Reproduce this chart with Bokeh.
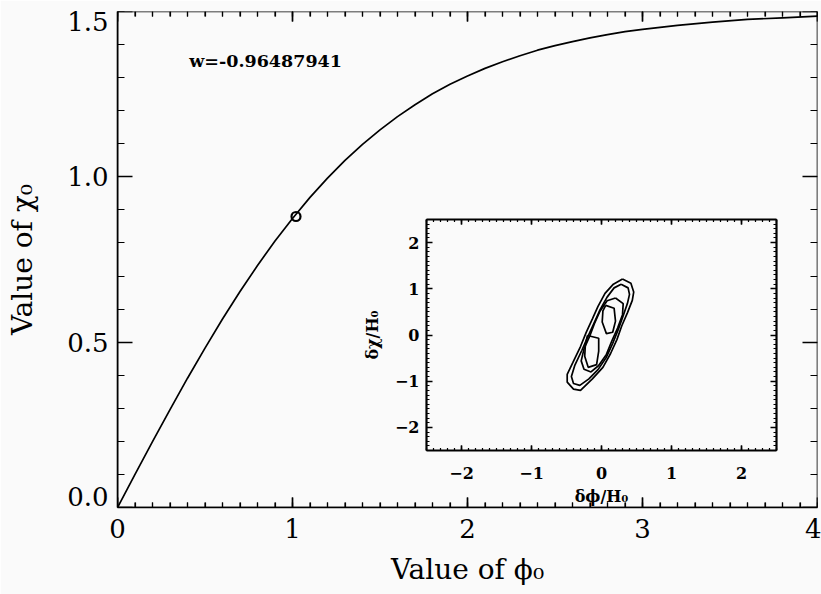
import numpy as np
from bokeh.plotting import figure
from bokeh.models import LinearAxis, Range1d, FixedTicker, Label
from bokeh.embed import file_html
from bokeh.resources import INLINE

# ---------------- data ----------------
phi0 = [0.0, 0.1, 0.2, 0.3, 0.4, 0.5, 0.6, 0.7, 0.8, 0.9, 1.0, 1.1, 1.2, 1.3, 1.4,
        1.5, 1.6, 1.7, 1.8, 1.9, 2.0, 2.1, 2.2, 2.3, 2.4, 2.5, 2.6, 2.7, 2.8, 2.9,
        3.0, 3.2, 3.4, 3.6, 3.8, 4.0]
chi0 = [0.000, 0.100, 0.199, 0.296, 0.391, 0.482, 0.570, 0.653, 0.732, 0.806,
        0.874, 0.938, 0.996, 1.050, 1.098, 1.142, 1.182, 1.218, 1.251, 1.280,
        1.305, 1.328, 1.348, 1.366, 1.383, 1.397, 1.409, 1.420, 1.430, 1.439,
        1.446, 1.458, 1.468, 1.476, 1.481, 1.486]
point_phi = [1.02]
point_chi = [0.88]
w_value = -0.96487941

main_x_ticks = [0, 1, 2, 3, 4]
main_y_ticks = [0.0, 0.5, 1.0, 1.5]
main_y_tick_labels = ["0.0", "0.5", "1.0", "1.5"]
inset_ticks = [-2, -1, 0, 1, 2]
inset_tick_labels = ["\u22122", "\u22121", "0", "1", "2"]

# contour levels of the inset (dphi/H0, dchi/H0)
c1_x = [0.30, 0.42, 0.46, 0.44, 0.37, 0.29, 0.22, 0.13, 0.02, -0.13, -0.30, -0.40, -0.49, -0.49, -0.41, -0.30, -0.22, -0.13, -0.05, 0.05, 0.17]
c1_y = [1.21, 1.12, 0.93, 0.75, 0.48, 0.20, -0.10, -0.40, -0.70, -0.95, -1.20, -1.17, -1.02, -0.85, -0.60, -0.25, 0.05, 0.35, 0.62, 0.90, 1.10]
c2_x = [0.28, 0.38, 0.40, 0.37, 0.31, 0.24, 0.16, 0.07, -0.05, -0.18, -0.31, -0.40, -0.43, -0.38, -0.28, -0.19, -0.10, -0.02, 0.08, 0.18]
c2_y = [1.10, 1.02, 0.88, 0.68, 0.42, 0.12, -0.18, -0.48, -0.75, -0.95, -1.09, -1.05, -0.90, -0.65, -0.33, -0.02, 0.28, 0.55, 0.82, 1.02]
c3_x = [0.20, 0.31, 0.30, 0.23, 0.15, 0.07, -0.04, -0.15, -0.25, -0.29, -0.25, -0.17, -0.10, -0.02, 0.08]
c3_y = [0.80, 0.68, 0.44, 0.15, -0.12, -0.42, -0.66, -0.80, -0.74, -0.56, -0.30, -0.03, 0.25, 0.52, 0.74]
c4a_x = [0.06, 0.18, 0.20, 0.16, 0.07, 0.01, 0.02]
c4a_y = [0.64, 0.58, 0.30, 0.06, 0.03, 0.28, 0.52]
c4b_x = [-0.20, -0.04, -0.04, -0.07, -0.19, -0.24, -0.23]
c4b_y = [-0.01, -0.07, -0.35, -0.64, -0.70, -0.46, -0.20]

# ---------------- layout / style ----------------
BG = "#fafafa"
FONT = "DejaVu Serif"
W, H = 821, 594
FL, FR, FT, FB = 117, 817, 11, 507          # main frame (pixels)
IL, IR, IT, IB = 426, 776, 219, 450          # inset frame (pixels)
X0, X1, Y0, Y1 = 0.0, 4.0, 0.0, 1.5
I0, I1 = -2.5, 2.5

p = figure(width=W, height=H, x_range=Range1d(X0, X1), y_range=Range1d(Y0, Y1),
           output_backend="svg", toolbar_location=None,
           min_border_left=FL, min_border_right=W - FR,
           min_border_top=FT, min_border_bottom=H - FB,
           background_fill_color=BG, border_fill_color=BG, outline_line_color=None)
p.grid.visible = False

sx = (IR - IL) / (I1 - I0)
sy = (IB - IT) / (I1 - I0)
p.extra_x_ranges = {"ix": Range1d(I0 - (IL - FL) / sx, I1 + (FR - IR) / sx),
                    "mx": Range1d(X0, X1)}
p.extra_y_ranges = {"iy": Range1d(I0 - (FB - IB) / sy, I1 + (IT - FT) / sy),
                    "my": Range1d(Y0, Y1)}

# data units per pixel (for tick lengths drawn as glyphs)
main_dy = (Y1 - Y0) / (FB - FT)
inset_dy = 1.0 / sy


def ticks_only(ax, maj, mnr, lw, color="black"):
    ax.major_tick_in = maj
    ax.major_tick_out = 0
    ax.minor_tick_in = mnr
    ax.minor_tick_out = 0
    ax.axis_line_color = color
    ax.axis_line_width = lw
    ax.major_tick_line_color = color
    ax.minor_tick_line_color = color
    ax.major_tick_line_width = 1.4
    ax.minor_tick_line_width = 1.2


def frame_axis(xr, yr, loc, side, ticker, bounds, maj, mnr, lw):
    ax = LinearAxis(x_range_name=xr, y_range_name=yr, fixed_location=loc,
                    bounds=bounds, ticker=ticker, major_label_text_color=None)
    ticks_only(ax, maj, mnr, lw)
    p.add_layout(ax, side)
    return ax


x_minor = list(np.round(np.arange(X0, X1 + 1e-9, 0.1), 3))
y_minor = list(np.round(np.arange(Y0, Y1 + 1e-9, 0.1), 3))
i_minor = list(np.round(np.arange(I0, I1 + 1e-9, 0.1), 3))
xt = FixedTicker(ticks=main_x_ticks, minor_ticks=x_minor)
yt = FixedTicker(ticks=main_y_ticks, minor_ticks=y_minor)
it = FixedTicker(ticks=inset_ticks, minor_ticks=i_minor)

# main labelled axes (labels only; ticks are drawn by the frame axes)
xa = p.xaxis[0]
xa.ticker = FixedTicker(ticks=main_x_ticks)
ticks_only(xa, 0, 0, 1.6)
xa.axis_label = "Value of \u03d5\u2080"
xa.axis_label_text_font = FONT
xa.axis_label_text_font_style = "normal"
xa.axis_label_text_font_size = "28px"
xa.axis_label_text_color = "black"
xa.axis_label_standoff = 12
xa.major_label_text_font = FONT
xa.major_label_text_font_size = "26px"
xa.major_label_text_color = "black"
xa.major_label_standoff = 11

# y labels: the end labels sit pulled inside the frame height, as in the original
y_label_pos = [round(Y0 + 11 * main_dy, 3), 0.5, 1.0, round(Y1 - 10 * main_dy, 3)]
ya = p.yaxis[0]
ya.ticker = FixedTicker(ticks=y_label_pos)
ya.major_label_overrides = dict(zip(y_label_pos, main_y_tick_labels))
ticks_only(ya, 0, 0, 1.6)
ya.axis_label = "Value of \u03c7\u2080"
ya.axis_label_text_font = FONT
ya.axis_label_text_font_style = "normal"
ya.axis_label_text_font_size = "28px"
ya.axis_label_text_color = "black"
ya.axis_label_standoff = 25
ya.major_label_text_font = FONT
ya.major_label_text_font_size = "26px"
ya.major_label_text_color = "black"
ya.major_label_standoff = 9

# main frame ticks on all four sides
frame_axis("mx", "my", Y0, "below", xt, (X0, X1), 10, 5, 1.6)
frame_axis("mx", "my", Y1, "above", xt, (X0, X1), 10, 5, 1.6)
frame_axis("mx", "my", X0, "left", yt, (Y0, Y1), 15, 7, 1.6)
frame_axis("mx", "my", X1, "right", yt, (Y0, Y1), 15, 7, 1.6)

# horizontal-edge ticks of the main frame as glyphs too
p.segment(x0=main_x_ticks, y0=[Y0] * 5, x1=main_x_ticks, y1=[Y0 + 10 * main_dy] * 5,
          line_color="black", line_width=1.4)
p.segment(x0=main_x_ticks, y0=[Y1] * 5, x1=main_x_ticks, y1=[Y1 - 10 * main_dy] * 5,
          line_color="black", line_width=1.4)
n = len(x_minor)
p.segment(x0=x_minor, y0=[Y0] * n, x1=x_minor, y1=[Y0 + 5 * main_dy] * n,
          line_color="black", line_width=1.2)
p.segment(x0=x_minor, y0=[Y1] * n, x1=x_minor, y1=[Y1 - 5 * main_dy] * n,
          line_color="black", line_width=1.2)

# inset frame
il = frame_axis("ix", "iy", I0, "left", it, (I0, I1), 6, 3, 2.2)
il.major_label_overrides = dict(zip(inset_ticks, inset_tick_labels))
il.major_label_text_color = "black"
il.major_label_text_font = FONT
il.major_label_text_font_style = "bold"
il.major_label_text_font_size = "16px"
il.major_label_standoff = 7
il.axis_label = "\u03b4\u03c7/H\u2080"
il.axis_label_text_font = FONT
il.axis_label_text_font_style = "bold"
il.axis_label_text_font_size = "16px"
il.axis_label_text_color = "black"
il.axis_label_standoff = 10

ib = frame_axis("ix", "iy", I0, "below", it, (I0, I1), 5, 2, 2.2)
ib.major_label_overrides = dict(zip(inset_ticks, inset_tick_labels))
ib.major_label_text_color = "black"
ib.major_label_text_font = FONT
ib.major_label_text_font_style = "bold"
ib.major_label_text_font_size = "16px"
ib.major_label_standoff = 16
ib.axis_label = "\u03b4\u03d5/H\u2080"
ib.axis_label_text_font = FONT
ib.axis_label_text_font_style = "bold"
ib.axis_label_text_font_size = "16px"
ib.axis_label_text_color = "black"
ib.axis_label_standoff = 5

frame_axis("ix", "iy", I1, "right", it, (I0, I1), 6, 3, 2.2)
frame_axis("ix", "iy", I1, "above", it, (I0, I1), 5, 2, 2.2)

m = len(i_minor)
p.segment(x0=inset_ticks, y0=[I0] * 5, x1=inset_ticks, y1=[I0 + 5 * inset_dy] * 5,
          x_range_name="ix", y_range_name="iy", line_color="black", line_width=1.4)
p.segment(x0=inset_ticks, y0=[I1] * 5, x1=inset_ticks, y1=[I1 - 5 * inset_dy] * 5,
          x_range_name="ix", y_range_name="iy", line_color="black", line_width=1.4)
p.segment(x0=i_minor, y0=[I0] * m, x1=i_minor, y1=[I0 + 2.5 * inset_dy] * m,
          x_range_name="ix", y_range_name="iy", line_color="black", line_width=1.1)
p.segment(x0=i_minor, y0=[I1] * m, x1=i_minor, y1=[I1 - 2.5 * inset_dy] * m,
          x_range_name="ix", y_range_name="iy", line_color="black", line_width=1.1)

# main curve and point
p.line(phi0, chi0, line_color="black", line_width=1.7)
p.scatter(point_phi, point_chi, marker="circle", size=9, fill_color=None,
          line_color="black", line_width=2.2)

# inset contours
def closed(v):
    return list(v) + [v[0]]

xs = [closed(c1_x), closed(c2_x), closed(c3_x), closed(c4a_x), closed(c4b_x)]
ys = [closed(c1_y), closed(c2_y), closed(c3_y), closed(c4a_y), closed(c4b_y)]
p.multi_line(xs, ys, x_range_name="ix", y_range_name="iy", line_color="black", line_width=1.7)

# annotation
p.add_layout(Label(x=0.41, y=1.35, text=f"w={w_value:.8f}", text_font=FONT,
                   text_font_style="bold", text_font_size="17.5px", text_baseline="middle",
                   text_color="black"))

open("out.html", "w").write(file_html(p, INLINE))
